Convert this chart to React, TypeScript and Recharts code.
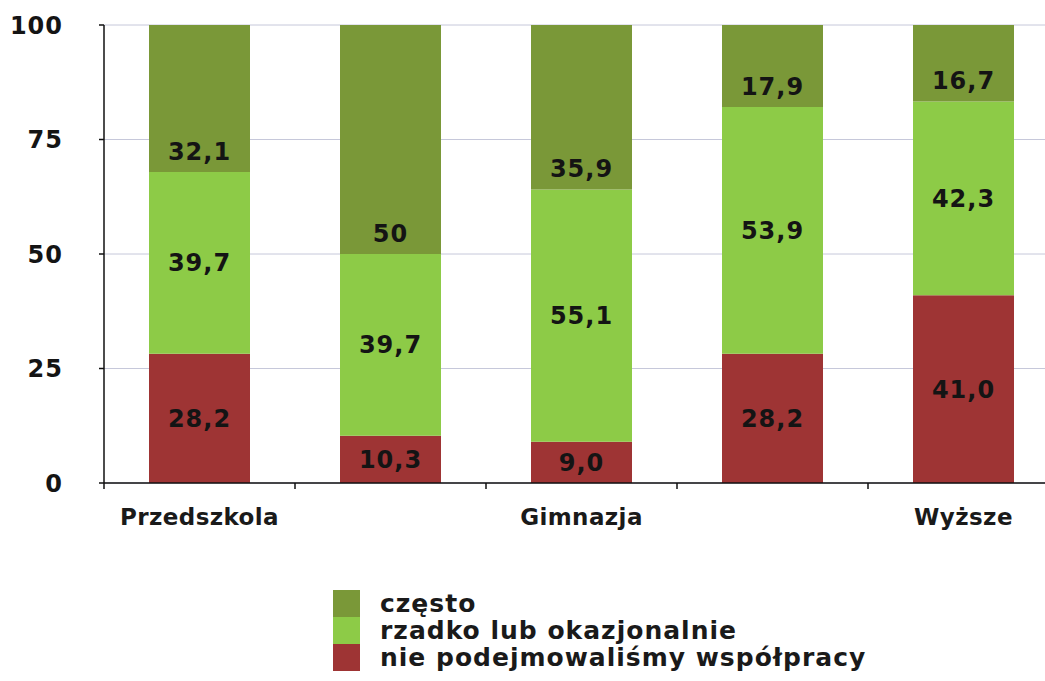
import { BarChart, Bar, XAxis, YAxis, CartesianGrid, Legend, LabelList } from 'recharts';

const categories = ['Przedszkola', 'Szkoły podstawowe', 'Gimnazja', 'Szkoły ponadgimnazjalne', 'Wyższe'];
const neverValues = [28.2, 10.3, 9.0, 28.2, 41.0];
const rarelyValues = [39.7, 39.7, 55.1, 53.9, 42.3];
const oftenValues = [32.1, 50, 35.9, 17.9, 16.7];
const neverLabels = ['28,2', '10,3', '9,0', '28,2', '41,0'];
const rarelyLabels = ['39,7', '39,7', '55,1', '53,9', '42,3'];
const oftenLabels = ['32,1', '50', '35,9', '17,9', '16,7'];
const yTicks = [0, 25, 50, 75, 100];

const series = [
  { key: 'never', name: 'nie podejmowaliśmy współpracy', color: '#9e3434' },
  { key: 'rarely', name: 'rzadko lub okazjonalnie', color: '#8dcb47' },
  { key: 'often', name: 'często', color: '#7a9838' },
];

const data = categories.map((name, i) => ({
  name,
  never: neverValues[i],
  rarely: rarelyValues[i],
  often: oftenValues[i],
  neverLabel: neverLabels[i],
  rarelyLabel: rarelyLabels[i],
  oftenLabel: oftenLabels[i],
}));

const FONT = '"DejaVu Sans", Verdana, sans-serif';
const CHART_W = 1059;
const Y_AXIS_W = 104;
const HALF_BAND = (CHART_W - Y_AXIS_W) / categories.length / 2;

const CategoryTick = (props: any) => {
  const { x, y, payload, index } = props;
  const half = payload && payload.offset ? payload.offset : HALF_BAND;
  return (
    <g>
      {index === 0 && (
        <line x1={x - half} x2={x - half} y1={y} y2={y + 6} stroke="#111" strokeWidth={1.5} />
      )}
      <line x1={x + half} x2={x + half} y1={y} y2={y + 6} stroke="#111" strokeWidth={1.5} />
      {index % 2 === 0 && (
        <text
          x={x}
          y={y + 42}
          textAnchor="middle"
          fontFamily={FONT}
          fontWeight="bold"
          fontSize={23}
          letterSpacing={0.4}
          fill="#1a1a1a"
        >
          {payload.value}
        </text>
      )}
    </g>
  );
};

const LegendContent = () => (
  <div style={{ fontFamily: FONT, fontWeight: 'bold', fontSize: 25, letterSpacing: 1, color: '#1a1a1a' }}>
    {[...series].reverse().map((s) => (
      <div key={s.key} style={{ display: 'flex', alignItems: 'center', height: 27 }}>
        <div style={{ width: 27, height: 27, background: s.color, marginRight: 20 }} />
        <span style={{ lineHeight: '27px', whiteSpace: 'nowrap' }}>{s.name}</span>
      </div>
    ))}
  </div>
);

const labelStyle = { fontFamily: FONT, fontWeight: 'bold', fontSize: 24, fill: '#141414', letterSpacing: 1 } as const;

export default function App() {
  return (
    <div style={{ position: 'absolute', left: 0, top: 0, background: '#fff' }}>
      <BarChart
        width={CHART_W}
        height={681}
        data={data}
        margin={{ top: 25, right: 0, left: 0, bottom: 158 }}
        barSize={101}
      >
        <CartesianGrid vertical={false} stroke="#c6c8da" strokeWidth={1} />
        <XAxis
          dataKey="name"
          interval={0}
          height={40}
          tickSize={0}
          tickMargin={0}
          tick={<CategoryTick />}
          axisLine={{ stroke: '#111', strokeWidth: 1.5 }}
        />
        <YAxis
          width={Y_AXIS_W}
          domain={[0, 100]}
          ticks={yTicks}
          tickSize={5}
          tickMargin={36}
          tick={{ ...labelStyle, fontSize: 24 }}
          axisLine={{ stroke: '#111', strokeWidth: 1.5 }}
          tickLine={{ stroke: '#111', strokeWidth: 1.5 }}
        />
        <Legend
          layout="vertical"
          align="center"
          verticalAlign="middle"
          content={<LegendContent />}
          wrapperStyle={{ left: 333, top: 590, width: 650 }}
        />
        <Bar dataKey="never" name={series[0].name} stackId="a" fill={series[0].color} isAnimationActive={false}>
          <LabelList dataKey="neverLabel" position="center" style={labelStyle} />
        </Bar>
        <Bar dataKey="rarely" name={series[1].name} stackId="a" fill={series[1].color} isAnimationActive={false}>
          <LabelList dataKey="rarelyLabel" position="center" style={labelStyle} />
        </Bar>
        <Bar dataKey="often" name={series[2].name} stackId="a" fill={series[2].color} isAnimationActive={false}>
          <LabelList dataKey="oftenLabel" position="insideBottom" offset={12} style={labelStyle} />
        </Bar>
      </BarChart>
    </div>
  );
}
